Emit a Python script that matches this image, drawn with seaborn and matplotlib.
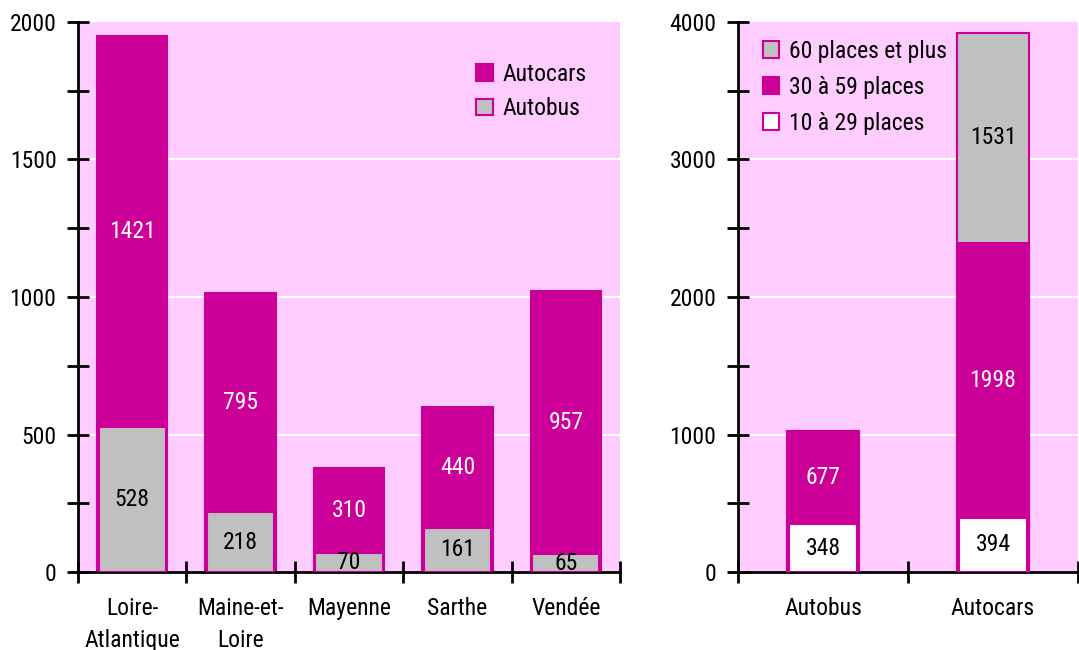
import matplotlib
matplotlib.use("Agg")
import matplotlib.pyplot as plt
import seaborn as sns
import numpy as np
from matplotlib.patches import Patch

# ---- data ----
departements = ["Loire-\nAtlantique", "Maine-et-\nLoire", "Mayenne", "Sarthe", "Vendée"]
autobus_dep = [528, 218, 70, 161, 65]
autocars_dep = [1421, 795, 310, 440, 957]

vehicules = ["Autobus", "Autocars"]
places_10_29 = [348, 394]
places_30_59 = [677, 1998]
places_60_plus = [0, 1531]

left_yticks = [0, 500, 1000, 1500, 2000]
right_yticks = [0, 1000, 2000, 3000, 4000]

# ---- style ----
MAG = "#CC0099"
PINK = "#FFCCFF"
GRAY = "#C0C0C0"
WHITE = "#FFFFFF"

sns.set_theme(style="white")
plt.rcParams["font.family"] = ["Roboto Condensed", "DejaVu Sans"]
plt.rcParams["text.color"] = "black"
plt.rcParams["xtick.color"] = "black"
plt.rcParams["ytick.color"] = "black"
plt.rcParams["xtick.labelcolor"] = "black"
plt.rcParams["ytick.labelcolor"] = "black"
FS = 17

fig = plt.figure(figsize=(10.79, 6.5), dpi=100)
ax1 = fig.add_axes([78/1079, 1-572/650, 542/1079, 550/650])
ax2 = fig.add_axes([738/1079, 1-572/650, 340/1079, 550/650])


def style_axes(ax, n, yticks, minor_step):
    ax.set_facecolor(PINK)
    for s in ["top", "right"]:
        ax.spines[s].set_visible(False)
    for s in ["left", "bottom"]:
        ax.spines[s].set_color("black")
        ax.spines[s].set_linewidth(2)
    ax.set_xlim(-0.5, n - 0.5)
    ax.set_ylim(yticks[0], yticks[-1])
    ax.set_yticks(yticks)
    ax.set_yticklabels([str(v) for v in yticks], fontsize=FS)
    ax.set_yticks(np.arange(minor_step, yticks[-1], 2 * minor_step), minor=True)
    ax.tick_params(axis="y", which="both", direction="inout", length=16, width=2,
                   color="black", labelcolor="black", pad=7.5, left=True)
    ax.set_xticks(np.arange(-0.5, n, 1.0))
    ax.set_xticklabels([])
    ax.tick_params(axis="x", which="major", direction="inout", length=16, width=2,
                   color="black", bottom=True)
    for y in yticks[1:-1]:
        ax.axhline(y, color="white", lw=1.5, zorder=0.5)
    ax.set_axisbelow(True)
    ax.set_xlabel("")
    ax.set_ylabel("")


def set_cat_labels(ax, labels):
    ax.set_xticks(np.arange(len(labels)), minor=True)
    ax.set_xticklabels(labels, minor=True, fontsize=FS, linespacing=1.5, color="black")
    ax.tick_params(axis="x", which="minor", length=0, pad=18)


# ---- left chart ----
tot_dep = np.array(autobus_dep) + np.array(autocars_dep)
sns.barplot(x=departements, y=tot_dep, color=MAG, saturation=1, width=0.65,
            edgecolor=MAG, linewidth=1.5, ax=ax1, zorder=2)
sns.barplot(x=departements, y=autobus_dep, color=GRAY, saturation=1, width=0.62,
            edgecolor=MAG, linewidth=1.5, ax=ax1, zorder=3)
style_axes(ax1, len(departements), left_yticks, 250)
set_cat_labels(ax1, departements)
for i, (b, c) in enumerate(zip(autobus_dep, autocars_dep)):
    ax1.text(i, b/2, str(b), ha="center", va="center", fontsize=FS, color="black", zorder=5)
    ax1.text(i, b + c/2, str(c), ha="center", va="center", fontsize=FS, color="white", zorder=5)

ax1.legend(handles=[Patch(facecolor=MAG, edgecolor=MAG, lw=1.5, label="Autocars"),
                    Patch(facecolor=GRAY, edgecolor=MAG, lw=1.5, label="Autobus")],
           loc="upper left", bbox_to_anchor=(0.717, 0.943), frameon=False, fontsize=FS,
           handlelength=0.7, handleheight=0.7, handletextpad=0.4, labelspacing=0.48,
           borderaxespad=0)

# ---- right chart ----
c1 = np.array(places_10_29)
c2 = c1 + np.array(places_30_59)
c3 = c2 + np.array(places_60_plus)
sns.barplot(x=vehicules, y=c3, color=GRAY, saturation=1, width=0.42,
            edgecolor=MAG, linewidth=1.5, ax=ax2, zorder=2)
sns.barplot(x=vehicules, y=c2, color=MAG, saturation=1, width=0.42,
            edgecolor=MAG, linewidth=1.5, ax=ax2, zorder=3)
sns.barplot(x=vehicules, y=c1, color=WHITE, saturation=1, width=0.40,
            edgecolor=MAG, linewidth=1.5, ax=ax2, zorder=4)
style_axes(ax2, len(vehicules), right_yticks, 500)
set_cat_labels(ax2, vehicules)
for i in range(len(vehicules)):
    a, b, c = places_10_29[i], places_30_59[i], places_60_plus[i]
    ax2.text(i, a/2, str(a), ha="center", va="center", fontsize=FS, color="black", zorder=5)
    ax2.text(i, a + b/2, str(b), ha="center", va="center", fontsize=FS, color="white", zorder=5)
    if c > 0:
        ax2.text(i, a + b + c/2, str(c), ha="center", va="center", fontsize=FS, color="black", zorder=5)

ax2.legend(handles=[Patch(facecolor=GRAY, edgecolor=MAG, lw=1.5, label="60 places et plus"),
                    Patch(facecolor=MAG, edgecolor=MAG, lw=1.5, label="30 à 59 places"),
                    Patch(facecolor=WHITE, edgecolor=MAG, lw=1.5, label="10 à 29 places")],
           loc="upper left", bbox_to_anchor=(0.045, 0.985), frameon=False, fontsize=FS,
           handlelength=0.7, handleheight=0.7, handletextpad=0.4, labelspacing=0.55,
           borderaxespad=0)

fig.savefig("out.png", dpi=100)
